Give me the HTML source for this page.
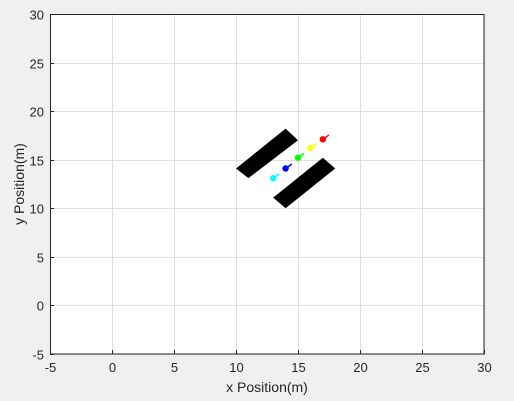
<!DOCTYPE html>
<html><head><meta charset="utf-8"><style>
body{margin:0;background:#f0f0f0;}
svg{display:block;font-family:"Liberation Sans",Arial,sans-serif;}
</style></head><body>
<svg id="chart" width="514" height="401" viewBox="0 0 514 401">
<rect x="0" y="0" width="514" height="401" fill="#f0f0f0"/>
<rect x="50" y="14" width="434" height="340" fill="#fff"/>
<g id="grid"></g>
<g id="marks"></g>
<rect x="50.5" y="14.5" width="433.5" height="339.5" fill="none" stroke="#262626" stroke-width="1"/>
<g id="ticks"></g>
<text x="267" y="392" text-anchor="middle" font-size="14" fill="#262626">x Position(m)</text>
<text transform="translate(24,184) rotate(-90)" text-anchor="middle" font-size="14" fill="#262626">y Position(m)</text>
</svg>
<script>
const xTicks=[-5,0,5,10,15,20,25,30];
const yTicks=[-5,0,5,10,15,20,25,30];
const obstacle1X=[10,14,15,11];
const obstacle1Y=[14.1,18.2,17.0,13.1];
const obstacle2X=[13,17,18,14];
const obstacle2Y=[11.1,15.2,14.1,10.0];
const agentX=[13,14,15,16,17];
const agentY=[13.1,14.1,15.2,16.2,17.1];
const agentColors=["#00ffff","#0000ff","#00ff00","#ffff00","#ff0000"];
const NS="http://www.w3.org/2000/svg";
const X0=50,X1=484,Y0=354,Y1=14;
function sx(v){return X0+(v+5)/35*(X1-X0);}
function sy(v){return Y0-(v+5)/35*(Y0-Y1);}
function mk(t,a,p){const e=document.createElementNS(NS,t);for(const k in a)e.setAttribute(k,a[k]);p.appendChild(e);return e;}
const grid=document.getElementById('grid'),ticks=document.getElementById('ticks'),marks=document.getElementById('marks');
xTicks.forEach(v=>{const x=Math.round(sx(v))+0.5;
 const g=mk('line',{x1:x,x2:x,y1:Y1,y2:Y0,stroke:'#dfdfdf'},grid);
 
 const t=mk('line',{x1:x,x2:x,y1:Y0,y2:Y0-4,stroke:'#262626'},ticks);
 
 const l=mk('text',{x:x,y:Y0+18,'text-anchor':'middle','font-size':13,fill:'#262626'},ticks);l.textContent=v;
 
});
yTicks.forEach(v=>{const y=Math.round(sy(v))+0.5;
 const g=mk('line',{x1:X0,x2:X1,y1:y,y2:y,stroke:'#dfdfdf'},grid);
 
 const t=mk('line',{x1:X0,x2:X0+4,y1:y,y2:y,stroke:'#262626'},ticks);
 
 const l=mk('text',{x:X0-6,y:y+5,'text-anchor':'end','font-size':13,fill:'#262626'},ticks);l.textContent=v;
 
});
function poly(xs,ys,name){const p=mk('polygon',{points:xs.map((x,i)=>sx(x)+','+sy(ys[i])).join(' '),fill:'#000'},marks);
 }
poly(obstacle1X,obstacle1Y,'obstacle-upper');
poly(obstacle2X,obstacle2Y,'obstacle-lower');
agentX.forEach((x,i)=>{const cx=sx(x),cy=sy(agentY[i]);
 const l=mk('line',{x1:cx,y1:cy,x2:sx(x+0.5),y2:sy(agentY[i]+0.45),stroke:agentColors[i],'stroke-width':1.5},marks);
 
 const c=mk('circle',{cx:cx,cy:cy,r:3.2,fill:agentColors[i]},marks);
 
});
</script>
</body></html>
